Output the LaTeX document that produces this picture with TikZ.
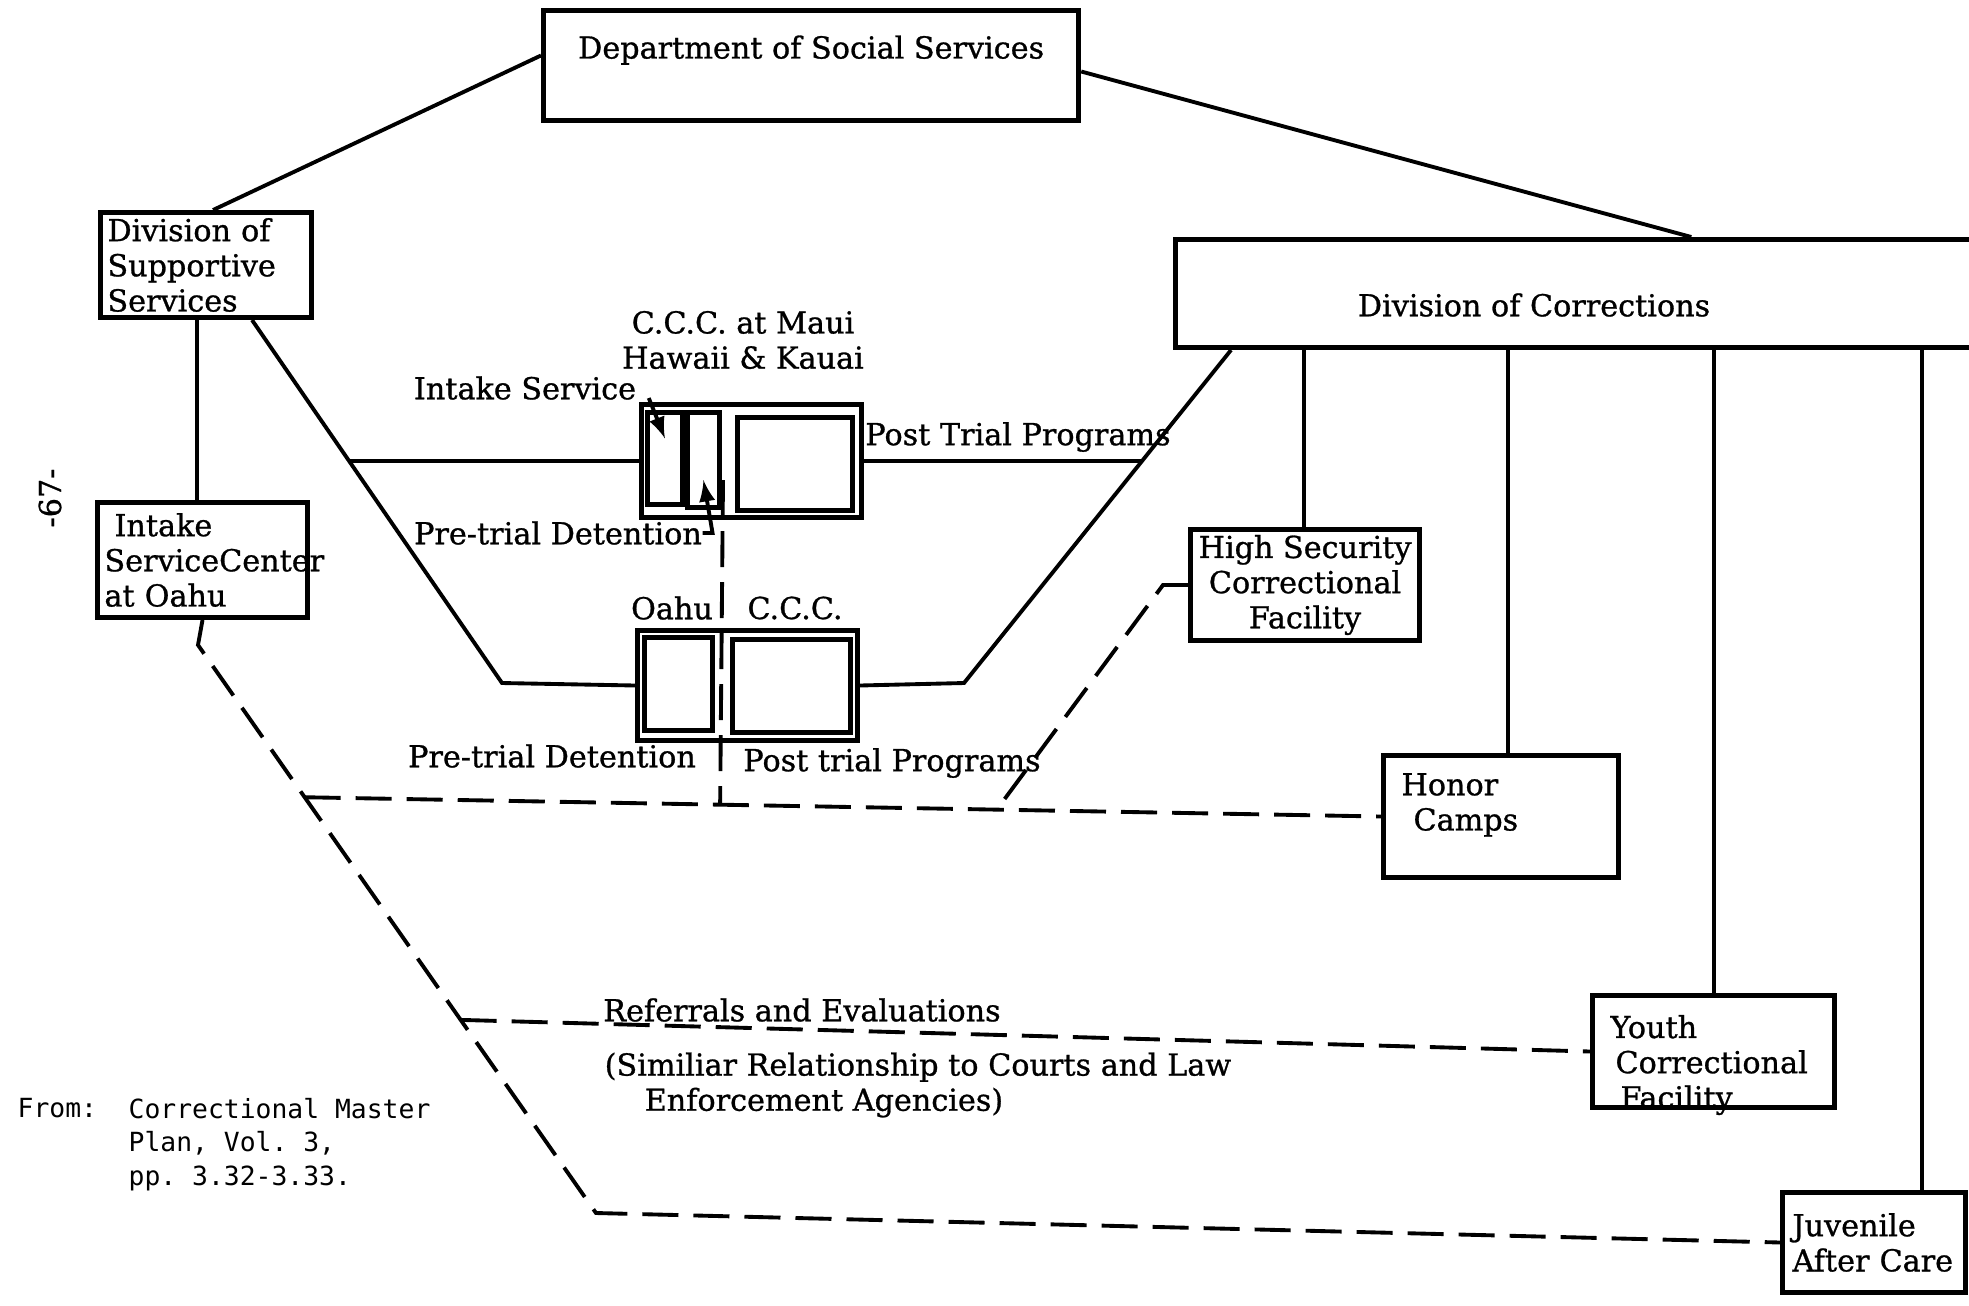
\documentclass[tikz,border=0pt]{standalone}
\usepackage{fontspec}
\setmainfont{DejaVu Serif}[FakeBold=0.9]
\setmonofont{DejaVu Sans Mono}
\usepackage{tikz}
\usetikzlibrary{arrows}
\tikzstyle{box} = [rectangle, draw=black, line width=1.4pt, inner xsep=0.07cm, inner ysep=0.03cm, align=left]
\tikzstyle{cell} = [rectangle, draw=black, line width=1.4pt, inner sep=0pt]
\tikzstyle{conn} = [draw=black, line width=1.1pt]
\tikzstyle{dashline} = [conn, dash pattern=on 0.36cm off 0.15cm]
\tikzstyle{pointer} = [conn, -latex]
\tikzstyle{lbl} = [inner sep=0pt]
\tikzstyle{note} = [inner sep=0pt, align=left, font=\fontsize{7.5}{9.4}\ttfamily]

\begin{document}
\begin{tikzpicture}[x=0.01cm, y=-0.01cm, font=\fontsize{8.6}{10}\selectfont]
\useasboundingbox (0,0) rectangle (1969,1305);
      \node (dss) [box, anchor=north west, minimum width=5.35cm, minimum height=1.10cm, text depth=0.37cm] at (541,8) {Department of Social Services};
      \node (dsupp) [box, anchor=north west, minimum width=2.11cm, minimum height=1.05cm, text width=1.97cm] at (98,210) {Division of\\Supportive\\Services};
      \node (intake) [box, anchor=north west, minimum width=2.10cm, minimum height=1.15cm, text width=1.96cm] at (95,500) {\hspace*{0.1cm}Intake\\ServiceCenter\\at Oahu};
      \node (doc) [box, anchor=north west, minimum width=9cm, minimum height=1.08cm] at (1173,237) {};
      \node (doclbl) [lbl] at (1534,305) {Division of Corrections};
      \node (hsec) [box, anchor=north west, minimum width=2.29cm, minimum height=1.11cm, align=center] at (1188,527) {High Security\\Correctional\\Facility};
      \node (honor) [box, anchor=north west, inner xsep=0.18cm, minimum width=2.35cm, minimum height=1.22cm, text width=1.99cm, text depth=0.645cm] at (1381,753) {Honor\\\hspace*{0.12cm}Camps};
      \node (youth) [box, anchor=north west, inner xsep=0.18cm, minimum width=2.42cm, minimum height=1.12cm, text width=2.06cm, text depth=0.5cm] at (1590,993) {Youth\\\hspace*{0.05cm}Correctional\\\hspace*{0.1cm}Facility};
      \node (juv) [box, anchor=north west, inner xsep=0.1cm, minimum width=1.83cm, minimum height=1.0cm, text width=1.63cm] at (1780,1190) {Juvenile\\After Care};

      \node (maui) [cell, anchor=north west, minimum width=2.2cm, minimum height=1.13cm] at (639,402) {};
      \node (mi1) [cell, anchor=north west, minimum width=0.35cm, minimum height=0.92cm] at (645,410) {};
      \node (mi2) [cell, anchor=north west, minimum width=0.32cm, minimum height=0.95cm] at (685,410) {};
      \node (mi3) [cell, anchor=north west, minimum width=1.15cm, minimum height=0.93cm] at (735,415) {};
      \node (oahu) [cell, anchor=north west, minimum width=2.2cm, minimum height=1.10cm] at (635,628) {};
      \node (oa) [cell, anchor=north west, minimum width=0.68cm, minimum height=0.93cm] at (642,635) {};
      \node (ob) [cell, anchor=north west, minimum width=1.18cm, minimum height=0.93cm] at (730,637) {};

      \node (mauiLbl) [lbl, align=center] at (743,340) {C.C.C. at Maui\\Hawaii \& Kauai};
      \node (isLbl) [lbl] at (525,388) {Intake Service};
      \node (ptLbl) [lbl] at (1018,437) {Post Trial Programs};
      \node (pdLbl) [lbl] at (558,533) {Pre-trial Detention};
      \node (oahuLbl) [lbl] at (672,608) {Oahu};
      \node (cccLbl) [lbl] at (795,608) {C.C.C.};
      \node (pd2Lbl) [lbl] at (552,756) {Pre-trial Detention};
      \node (pt2Lbl) [lbl] at (892,763) {Post trial Programs};
      \node (refLbl) [lbl] at (802,1010) {Referrals and Evaluations};
      \node (simLbl) [lbl, align=left, anchor=west] at (604,1085) {(Similiar Relationship to Courts and Law\\\hspace*{0.4cm}Enforcement Agencies)};
      \node (from) [note, anchor=north west] at (17,1098) {From:};
      \node (source) [note, anchor=north west] at (128,1098) {Correctional Master\\Plan, Vol.~3,\\pp.~3.32-3.33.};
      \node (pgno) [lbl, rotate=90] at (50,498) {-67-};

      \coordinate (pdBend) at (502,683);
      \coordinate (ocBend) at (964,683);
      \coordinate (ikBend) at (198,645);
      \coordinate (ikLow) at (596,1213);
      \coordinate (vTop) at (723,480);

      \draw[conn] ([yshift=0.1cm]dss.west) -- ([xshift=0.07cm]dsupp.north);
      \draw[conn] ([yshift=-0.06cm]dss.east) -- ([xshift=5.18cm]doc.north west);
      \draw[conn] (dsupp.south -| 197,0) -- (intake.north -| 197,0);
      \draw[conn] (dsupp.south -| 252,0) -- coordinate[pos=0.389] (mauiJoin) (pdBend) -- (oahu.west);
      \draw[conn] (mauiJoin) -- (mauiJoin -| maui.west);
      \draw[conn] ([xshift=0.58cm]doc.south west) -- coordinate[pos=0.332] (ptJoin) (ocBend) -- (oahu.east);
      \draw[conn] (maui.east) -- (maui.east -| ptJoin);
      \foreach \x/\n in {1304/hsec, 1508/honor, 1714/youth, 1922/juv}
        \draw[conn] (doc.south -| \x,0) -- (\n.north -| \x,0);

      \draw[pointer] ([xshift=0.12cm,yshift=-0.1cm]isLbl.east) -- ([yshift=0.2cm]mi1.center);
      \draw[pointer] (pdLbl.east) -- ++(10,0) -- ([yshift=-0.2cm]mi2.center);

      \draw[dashline] (intake.south) -- (ikBend) -- coordinate[pos=0.268] (dk1) coordinate[pos=0.66] (dk2) (ikLow) -- (juv.west);
      \draw[dashline] (dk1) -- coordinate[pos=0.386] (vJoin) coordinate[pos=0.643] (hsJoin) (honor.west);
      \draw[dashline] (dk2) -- (youth.west);
      \draw[dashline] (hsec.west) -- ++(-25,0) -- (hsJoin);
      \draw[dashline] (vTop) -- (vJoin);
\end{tikzpicture}
\end{document}
